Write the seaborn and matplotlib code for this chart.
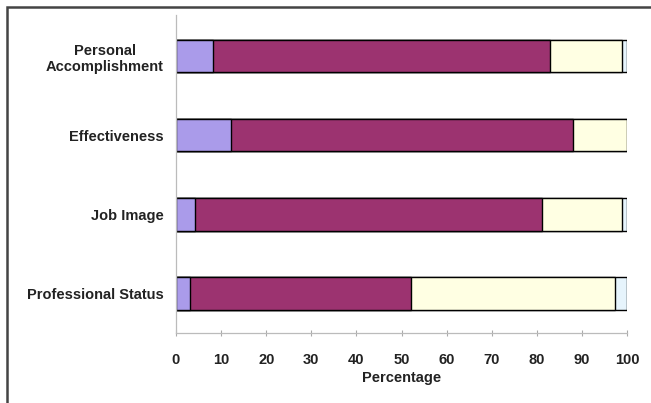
import matplotlib
matplotlib.use("Agg")
import matplotlib.pyplot as plt
from matplotlib.patches import Rectangle
import seaborn as sns
import pandas as pd
import numpy as np

categories = ["Personal\nAccomplishment", "Effectiveness", "Job Image", "Professional Status"]
seg1 = [8.3, 12.1, 4.2, 3.1]     # lavender
seg2 = [74.6, 75.9, 76.9, 48.9]  # plum
seg3 = [16.1, 12.0, 17.7, 45.3]  # cream
seg4 = [1.0, 0.0, 1.2, 2.7]      # light blue
xticks = [0, 10, 20, 30, 40, 50, 60, 70, 80, 90, 100]

colors = ["#AA9BEA", "#9C3370", "#FFFFE3", "#E6F4FC"]

sns.set_theme(style="white")
plt.rcParams["font.family"] = ["Liberation Sans Narrow", "Liberation Sans", "DejaVu Sans"]

fig = plt.figure(figsize=(6.51, 4.03), dpi=100)
ax = fig.add_axes([176/651, 1-333/403, (627-176)/651, (333-15)/403])

segs = [seg1, seg2, seg3, seg4]
cum = np.cumsum(np.array(segs), axis=0)
# draw cumulative totals from the outermost inward so that each segment shows
for i in range(3, -1, -1):
    df = pd.DataFrame({"cat": categories, "val": cum[i]})
    sns.barplot(data=df, x="val", y="cat", orient="h", color=colors[i],
                saturation=1, width=0.41, edgecolor="black", linewidth=1.0, ax=ax)

ax.set_xlim(0, 100)
ax.set_ylim(3.5, -0.52)
ax.set_xticks(xticks)
ax.set_xticklabels([str(t) for t in xticks], fontsize=10.5, fontweight="bold", color="#222222")
for lab in ax.get_yticklabels():
    lab.set_fontsize(10.5)
    lab.set_fontweight("bold")
    lab.set_color("#222222")
    lab.set_multialignment("center")
ax.set_ylabel("")
ax.set_xlabel("Percentage", fontsize=10.5, fontweight="bold", color="#222222", labelpad=3)
ax.tick_params(axis="x", direction="inout", length=5, width=0.8, color="#AAAAAA", pad=12, bottom=True)
ax.tick_params(axis="y", length=0, pad=9)
for s in ["top", "right"]:
    ax.spines[s].set_visible(False)
for s in ["left", "bottom"]:
    ax.spines[s].set_color("#BBBBBB")
    ax.spines[s].set_linewidth(0.9)

# outer chart frame (top and left edges visible)
fig.patches.append(Rectangle((6.5/651, -0.2), 1.2, 1.2 - 7/403 + 0.0,
                             transform=fig.transFigure, fill=False,
                             edgecolor="#444444", linewidth=1.8))

fig.savefig("out.png", dpi=100, facecolor="white")
